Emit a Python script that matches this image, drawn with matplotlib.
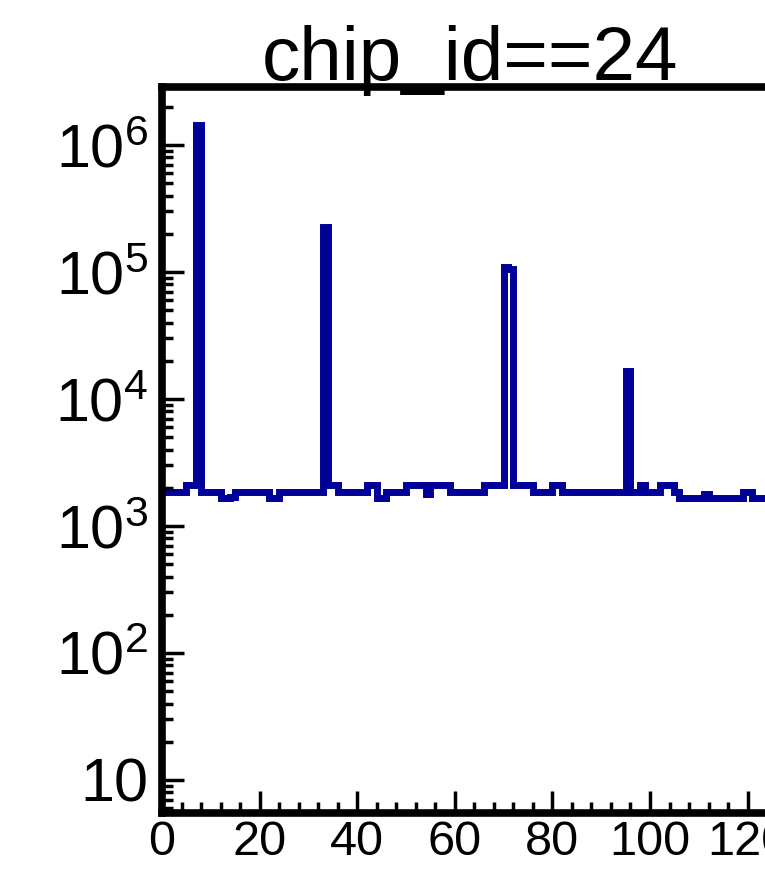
import matplotlib

matplotlib.use("Agg")
import matplotlib.pyplot as plt
import numpy as np
from matplotlib.ticker import FuncFormatter, LogLocator, MultipleLocator, NullFormatter

plt.rcParams["font.family"] = ["Liberation Sans", "DejaVu Sans"]
plt.rcParams["mathtext.fontset"] = "custom"
plt.rcParams["mathtext.rm"] = "Liberation Sans"

TITLE = "chip_id==24"

# counts per bin (bin width 1, starting at 0)
COUNTS = [
    1860, 1860, 1860, 1860, 1860, 2100, 2100, 1450000, 1860, 1860,      # 0-9
    1860, 1860, 1660, 1660, 1700, 1860, 1860, 1860, 1860, 1860,         # 10-19
    1860, 1860, 1660, 1660, 1860, 1860, 1860, 1860, 1860, 1860,         # 20-29
    1860, 1860, 1860, 225000, 2100, 2100, 1860, 1860, 1860, 1860,       # 30-39
    1860, 1860, 2100, 2100, 1650, 1650, 1860, 1860, 1860, 1860,         # 40-49
    2100, 2100, 2100, 2100, 1800, 2100, 2100, 2100, 2100, 1860,         # 50-59
    1860, 1860, 1860, 1860, 1860, 1860, 2100, 2100, 2100, 2100,         # 60-69
    110000, 106000, 2100, 2100, 2100, 2100, 1860, 1860, 1860, 1860,     # 70-79
    2100, 2100, 1860, 1860, 1860, 1860, 1860, 1860, 1860, 1860,         # 80-89
    1860, 1860, 1860, 1860, 1860, 16500, 1860, 1860, 2100, 1860,        # 90-99
    1860, 1860, 2100, 2100, 2100, 1860, 1660, 1660, 1660, 1660,         # 100-109
    1660, 1800, 1660, 1660, 1660, 1660, 1660, 1660, 1660, 1860,         # 110-119
    1860, 1660, 1660, 1660, 1660, 1660,                                 # 120-125
]

XLIM = (0, 130)
YLIM = (10 ** 0.74, 10 ** 6.457)
LINE_COLOR = "#000099"

W, H = 765, 873
fig = plt.figure(figsize=(W / 100, H / 100), dpi=100)
# axes deliberately runs past the right edge (the reference is a crop)
ax = fig.add_axes([162 / W, 60 / H, 634.4 / W, 726 / H])

edges = np.arange(len(COUNTS) + 1)
ax.stairs(COUNTS, edges, baseline=None, color=LINE_COLOR, lw=5)

ax.set_yscale("log")
ax.set_xlim(XLIM)
ax.set_ylim(YLIM)

ax.xaxis.set_major_locator(MultipleLocator(20))
ax.xaxis.set_minor_locator(MultipleLocator(4))
ax.yaxis.set_major_locator(LogLocator(base=10, numticks=12))
ax.yaxis.set_minor_locator(LogLocator(base=10, subs=np.arange(2, 10), numticks=12))
ax.yaxis.set_minor_formatter(NullFormatter())


def _ylab(v, pos):
    k = int(round(np.log10(v)))
    if k == 1:
        return "10"
    return r"$\mathregular{10^{%d}}$" % k


ax.yaxis.set_major_formatter(FuncFormatter(_ylab))

ax.tick_params(which="both", direction="in", top=False, right=False, width=2.5, color="black")
ax.tick_params(which="major", length=16)
ax.tick_params(which="minor", length=8)
ax.tick_params(axis="x", labelsize=35, pad=5)
ax.tick_params(axis="y", labelsize=44, pad=10)

for s in ax.spines.values():
    s.set_linewidth(5.5)

fig.text(470 / W, 1 - 80 / H, TITLE, ha="center", va="baseline", fontsize=55)

fig.savefig("out.png", dpi=100)
